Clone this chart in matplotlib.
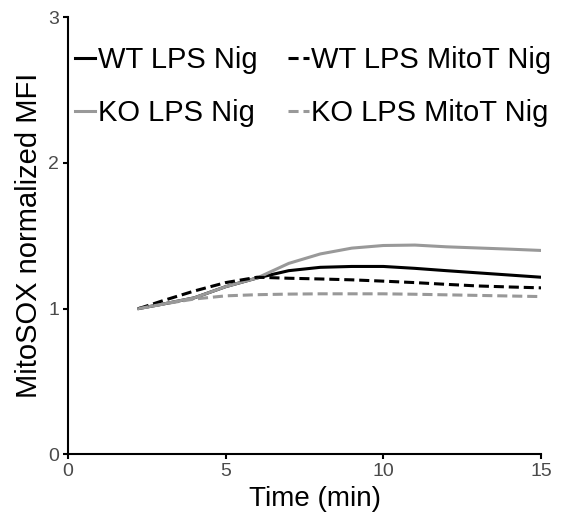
import matplotlib
matplotlib.use("Agg")
import matplotlib.pyplot as plt

plt.rcParams['font.family'] = ['Liberation Sans', 'DejaVu Sans']

time = [2.25, 3, 4, 5, 6, 7, 8, 9, 10, 11, 12, 13, 14, 15]
wt_lps_nig = [1.0, 1.03, 1.073, 1.15, 1.21, 1.26, 1.283, 1.289, 1.289, 1.276, 1.26, 1.245, 1.23, 1.215]
wt_lps_mitot_nig = [1.0, 1.053, 1.12, 1.178, 1.215, 1.208, 1.203, 1.197, 1.188, 1.178, 1.166, 1.155, 1.148, 1.142]
ko_lps_nig = [1.0, 1.03, 1.073, 1.15, 1.21, 1.31, 1.375, 1.415, 1.433, 1.436, 1.424, 1.416, 1.408, 1.399]
ko_lps_mitot_nig = [1.0, 1.03, 1.065, 1.087, 1.095, 1.099, 1.101, 1.101, 1.101, 1.098, 1.094, 1.09, 1.086, 1.082]

labels = ["WT LPS Nig", "KO LPS Nig", "WT LPS MitoT Nig", "KO LPS MitoT Nig"]
x_ticks = [0, 5, 10, 15]
y_ticks = [0, 1, 2, 3]

fig = plt.figure(figsize=(5.79, 5.25), dpi=100)
ax = fig.add_axes([0.1174, 0.1352, 0.8170, 0.8315])

gray = "#999999"
dash = (0, (3.3, 1.6))
ax.plot(time, wt_lps_nig, color="black", lw=2.2, label=labels[0])
ax.plot(time, ko_lps_nig, color=gray, lw=2.2, label=labels[1])
ax.plot(time, wt_lps_mitot_nig, color="black", lw=2.2, linestyle=dash, label=labels[2])
ax.plot(time, ko_lps_mitot_nig, color=gray, lw=2.2, linestyle=dash, label=labels[3])

ax.set_xlim(0, 15)
ax.set_ylim(0, 3)
ax.set_xticks(x_ticks)
ax.set_yticks(y_ticks)
for s in ["top", "right"]:
    ax.spines[s].set_visible(False)
for s in ["left", "bottom"]:
    ax.spines[s].set_linewidth(1.5)
ax.tick_params(axis="both", width=1.5, length=3.5, labelsize=14, labelcolor="#4a4a4a", pad=3)

ax.set_xlabel("Time (min)", fontsize=20, labelpad=4)
ax.xaxis.label.set_x(0.522)
ax.set_ylabel("MitoSOX normalized MFI", fontsize=21, labelpad=4)

ax.legend(ncol=2, loc="upper left", bbox_to_anchor=(75 / 579, 1 - 46 / 525),
          bbox_transform=fig.transFigure, frameon=False, fontsize=21,
          handlelength=0.7, handletextpad=0.08, columnspacing=1.06,
          labelspacing=0.86, borderpad=0, borderaxespad=0)

fig.savefig("out.png", dpi=100)
